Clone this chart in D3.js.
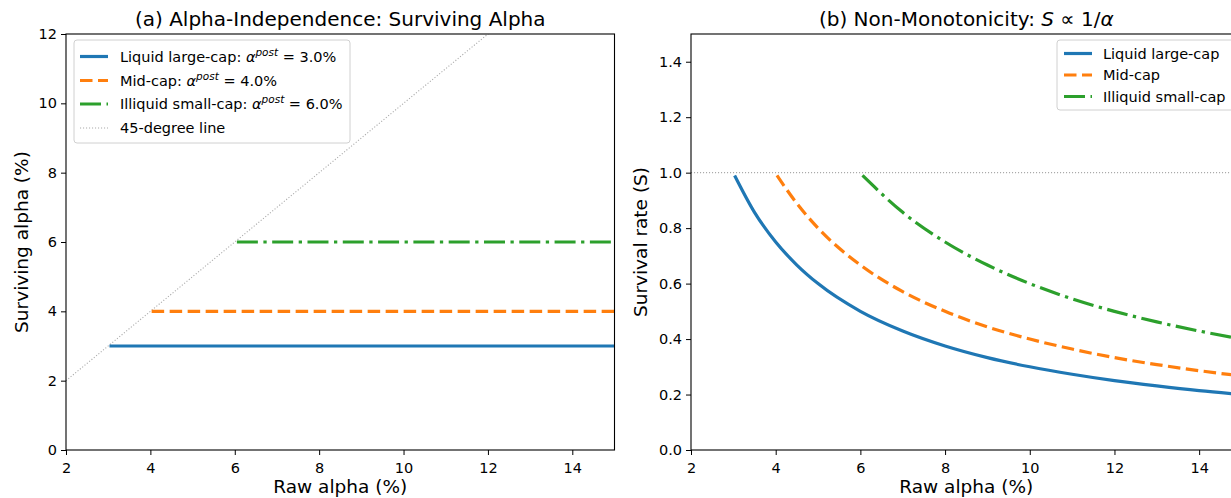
<!DOCTYPE html>
<html>
<head>
<meta charset="utf-8">
<script src="https://cdn.jsdelivr.net/npm/d3@7"></script>
<style>
  html, body { margin: 0; padding: 0; background: #fff; overflow: hidden; }
  svg { display: block; font-family: "DejaVu Sans", sans-serif; }
</style>
</head>
<body>
<svg id="chart" width="1231" height="498"></svg>
<script>
// ---- data ----
const segments = ["Liquid large-cap", "Mid-cap", "Illiquid small-cap"];
const alphaPost = [3.0, 4.0, 6.0];          // surviving alpha (%) per segment
const rawStart = [3.03, 4.03, 6.05];        // first raw alpha sampled per segment
const rawEnd = 15;

// survival rate curves, S at sampled raw alpha values
const rawLarge = [3.03, 3.5, 4, 4.5, 5, 6, 7, 8, 9, 10, 11, 12, 13, 14, 15];
const survLarge = [0.99, 0.857, 0.75, 0.667, 0.6, 0.5, 0.429, 0.375, 0.333, 0.3, 0.273, 0.25, 0.231, 0.214, 0.2];
const rawMid = [4.03, 4.5, 5, 6, 7, 8, 9, 10, 11, 12, 13, 14, 15];
const survMid = [0.99, 0.889, 0.8, 0.667, 0.571, 0.5, 0.444, 0.4, 0.364, 0.333, 0.308, 0.286, 0.267];
const rawSmall = [6.05, 7, 8, 9, 10, 11, 12, 13, 14, 15];
const survSmall = [0.99, 0.857, 0.75, 0.667, 0.6, 0.545, 0.5, 0.462, 0.429, 0.4];

const xTicks = [2, 4, 6, 8, 10, 12, 14];
const yTicksA = [0, 2, 4, 6, 8, 10, 12];
const yTicksB = [0.0, 0.2, 0.4, 0.6, 0.8, 1.0, 1.2, 1.4];

// ---- styles ----
const colors = ["#1f77b4", "#ff7f0e", "#2ca02c"];
const dashes = [null, "12.5,5.5", "21,5.5,3.3,5.5"];
const LW = 3.2;
const refColor = "#aaaaaa";
const TICK_FS = 14.5, LEG_FS = 14.5, LABEL_FS = 18.5, TITLE_FS = 20;

const svg = d3.select("#chart");

function panel(x0, x1, y0, y1, yDomain, yTicks, yFmt) {
  const x = d3.scaleLinear().domain([2, 15]).range([x0, x1]);
  const y = d3.scaleLinear().domain(yDomain).range([y1, y0]);
  const g = svg.append("g");
  const clipId = "clip" + Math.round(x0);
  svg.append("clipPath").attr("id", clipId)
    .append("rect").attr("x", x0).attr("y", y0).attr("width", x1 - x0).attr("height", y1 - y0);
  const plot = g.append("g").attr("clip-path", `url(#${clipId})`);

  const xa = g.append("g").attr("transform", `translate(0,${y1})`)
    .call(d3.axisBottom(x).tickValues(xTicks).tickSize(5).tickPadding(4).tickFormat(d3.format("d")));
  const ya = g.append("g").attr("transform", `translate(${x0},0)`)
    .call(d3.axisLeft(y).tickValues(yTicks).tickSize(5).tickPadding(4).tickFormat(yFmt));
  [xa, ya].forEach(a => {
    a.select(".domain").remove();
    a.selectAll("line").attr("stroke", "#000").attr("stroke-width", 1);
    a.selectAll("text").attr("fill", "#000").attr("font-size", TICK_FS)
      .attr("font-family", "DejaVu Sans, sans-serif");
  });
  xa.selectAll("text").attr("dy", "0.95em");
  return { x, y, g, plot, x0, x1, y0, y1 };
}

function frame(p) {
  p.g.append("rect").attr("x", p.x0).attr("y", p.y0)
    .attr("width", p.x1 - p.x0).attr("height", p.y1 - p.y0)
    .attr("fill", "none").attr("stroke", "#000").attr("stroke-width", 1.1);
}

// ---- panel (a): surviving alpha ----
const A = panel(66, 614.5, 34, 450, [0, 12], yTicksA, d3.format("d"));

// 45-degree reference line
A.plot.append("line")
  .attr("x1", A.x(2)).attr("y1", A.y(2)).attr("x2", A.x(15)).attr("y2", A.y(15))
  .attr("stroke", refColor).attr("stroke-width", 1.1).attr("stroke-dasharray", "1.1,1.9");

const lineA = d3.line().x(d => A.x(d[0])).y(d => A.y(d[1]));
segments.forEach((s, i) => {
  A.plot.append("path")
    .attr("d", lineA([[rawStart[i], alphaPost[i]], [rawEnd, alphaPost[i]]]))
    .attr("fill", "none").attr("stroke", colors[i]).attr("stroke-width", LW)
    .attr("stroke-dasharray", dashes[i]);
});
frame(A);

// ---- panel (b): survival rate ----
const B = panel(691, 1241.5, 34, 450, [0, 1.5], yTicksB, d3.format(".1f"));

B.plot.append("line")
  .attr("x1", B.x(2)).attr("y1", B.y(1)).attr("x2", B.x(15)).attr("y2", B.y(1))
  .attr("stroke", refColor).attr("stroke-width", 1.1).attr("stroke-dasharray", "1.1,1.9");

const curves = [[rawLarge, survLarge], [rawMid, survMid], [rawSmall, survSmall]];
const lineB = d3.line().x(d => B.x(d[0])).y(d => B.y(d[1])).curve(d3.curveMonotoneX);
curves.forEach(([xs, ys], i) => {
  B.plot.append("path")
    .attr("d", lineB(xs.map((v, k) => [v, ys[k]])))
    .attr("fill", "none").attr("stroke", colors[i]).attr("stroke-width", LW)
    .attr("stroke-dasharray", dashes[i]);
});
frame(B);

// ---- titles and axis labels ----
svg.append("text").attr("x", (A.x0 + A.x1) / 2).attr("y", 26).attr("text-anchor", "middle")
  .attr("font-size", TITLE_FS).text("(a) Alpha-Independence: Surviving Alpha");
const tb = svg.append("text").attr("x", (B.x0 + B.x1) / 2).attr("y", 26).attr("text-anchor", "middle")
  .attr("font-size", TITLE_FS);
tb.append("tspan").text("(b) Non-Monotonicity: ");
tb.append("tspan").attr("font-style", "italic").text("S");
tb.append("tspan").text(" \u221D 1/");
tb.append("tspan").attr("font-style", "italic").text("\u03B1");

[A, B].forEach(p => {
  svg.append("text").attr("x", (p.x0 + p.x1) / 2).attr("y", 493).attr("text-anchor", "middle")
    .attr("font-size", LABEL_FS).text("Raw alpha (%)");
});
svg.append("text").attr("transform", `translate(28,${(A.y0 + A.y1) / 2}) rotate(-90)`)
  .attr("text-anchor", "middle").attr("font-size", LABEL_FS).text("Surviving alpha (%)");
svg.append("text").attr("transform", `translate(647,${(B.y0 + B.y1) / 2}) rotate(-90)`)
  .attr("text-anchor", "middle").attr("font-size", LABEL_FS).text("Survival rate (S)");

// ---- legends ----
function legendBox(x, y, w, h) {
  svg.append("rect").attr("x", x).attr("y", y).attr("width", w).attr("height", h)
    .attr("rx", 3).attr("fill", "#fff").attr("fill-opacity", 0.85)
    .attr("stroke", "#d0d0d0").attr("stroke-width", 1);
}
function handle(x, y, i) {
  if (i === 3) {
    svg.append("line").attr("x1", x).attr("x2", x + 28).attr("y1", y).attr("y2", y)
      .attr("stroke", refColor).attr("stroke-width", 1.1).attr("stroke-dasharray", "1.1,1.9");
  } else {
    svg.append("line").attr("x1", x).attr("x2", x + 28).attr("y1", y).attr("y2", y)
      .attr("stroke", colors[i]).attr("stroke-width", LW).attr("stroke-dasharray", dashes[i]);
  }
}

// legend (a)
legendBox(74, 40, 276, 103);
const rowsA = [56.5, 80.5, 104, 128];
segments.forEach((s, i) => {
  handle(80, rowsA[i], i);
  const t = svg.append("text").attr("x", 120).attr("y", rowsA[i] + 5).attr("font-size", LEG_FS);
  t.append("tspan").text(s + ": ");
  t.append("tspan").attr("font-style", "italic").text("\u03B1");
  t.append("tspan").attr("font-style", "italic").attr("font-size", 10.5).attr("dy", -6).text("post");
  t.append("tspan").attr("dy", 6).text(" = " + alphaPost[i].toFixed(1) + "%");
});
handle(80, rowsA[3], 3);
svg.append("text").attr("x", 120).attr("y", rowsA[3] + 5).attr("font-size", LEG_FS).text("45-degree line");

// legend (b)
legendBox(1057, 40, 179, 70);
const rowsB = [53.5, 75, 96.5];
segments.forEach((s, i) => {
  handle(1064, rowsB[i], i);
  svg.append("text").attr("x", 1103).attr("y", rowsB[i] + 5).attr("font-size", LEG_FS).text(s);
});
</script>
</body>
</html>
